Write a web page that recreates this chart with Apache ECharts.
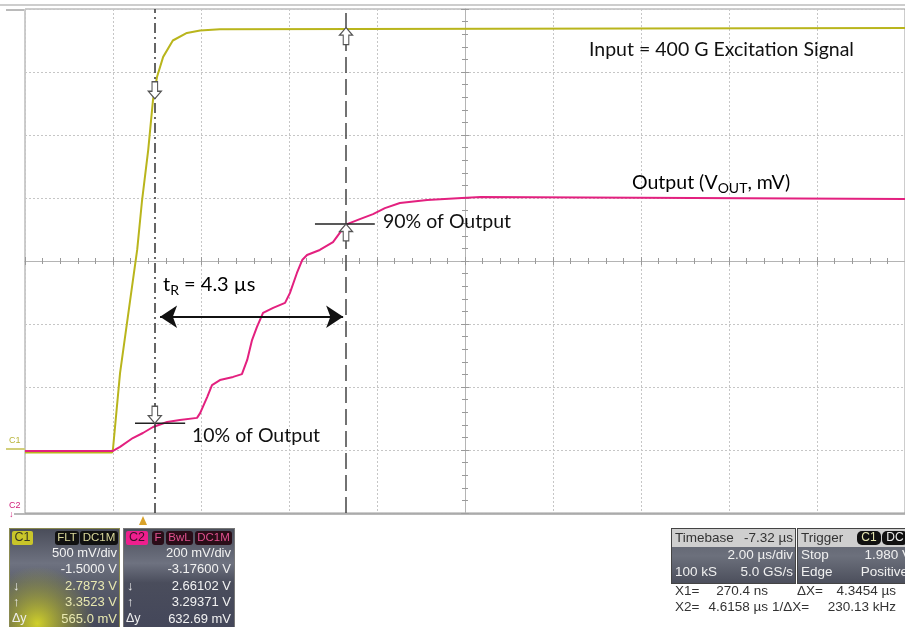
<!DOCTYPE html>
<html lang="en">
<head>
<meta charset="UTF-8">
<title>Rise time</title>
<script src="https://cdn.jsdelivr.net/npm/echarts@6/dist/echarts.min.js"></script>
<style>
  html, body { margin: 0; padding: 0; background: #fff; }
  #chart { width: 905px; height: 627px; }
</style>
</head>
<body>
<div id="chart"></div>
<script>
// scope settings (from the readout panels)
var timeCenter = 7.32;      // us, timebase delay
var timePerDiv = 2.0;       // us/div
var c1PerDiv = 0.5, c1Offset = -1.5;     // V/div, V
var c2PerDiv = 0.2, c2Offset = -3.176;

// C1 = input excitation (V), C2 = output (V), time in us
var c1Time = [-2.68, -0.70, -0.68, -0.52, -0.29, -0.13, -0.02, 0.12, 0.23, 0.32, 0.46, 0.68, 1.00, 1.30, 1.75, 17.32];
var c1Volt = [-0.02, -0.02, 0.01, 0.61, 1.19, 1.59, 1.98, 2.38, 2.78, 2.96, 3.12, 3.25, 3.31, 3.33, 3.34, 3.35];

var c2Time = [-2.68, -0.68, -0.52, -0.23, 0.00, 0.23, 0.55, 0.84, 1.23, 1.30, 1.46, 1.57, 1.75, 2.05, 2.25, 2.37, 2.48, 2.59, 2.73, 2.96,
              3.23, 3.34, 3.50, 3.62, 3.73, 4.02, 4.32, 4.52, 4.64, 4.93, 5.23, 5.50, 5.84, 6.46, 7.25, 7.68, 17.32];
var c2Volt = [2.573, 2.573, 2.586, 2.614, 2.630, 2.649, 2.665, 2.671, 2.678, 2.693, 2.744, 2.782, 2.798, 2.808, 2.817, 2.862, 2.925, 2.966, 3.011, 3.027,
              3.043, 3.074, 3.138, 3.179, 3.195, 3.211, 3.236, 3.274, 3.293, 3.309, 3.325, 3.344, 3.360, 3.370, 3.376, 3.379, 3.373];

// cursors
var cursorTime = [0.2704, 4.6158];
var c1Cursor = [2.7873, 3.3523];
var c2Cursor = [2.66102, 3.29371];
// rise time arrow (us) and its height on C2 (V)
var riseArrowTime = [0.39, 4.55];
var riseArrowVolt = 2.999;
// 10% / 90% marker bars (us)
var bar10Time = [-0.18, 0.96];
var bar90Time = [3.91, 5.27];

function xd(t) { return (t - timeCenter) / timePerDiv; }
function y1(v) { return (v + c1Offset) / c1PerDiv; }
function y2(v) { return (v + c2Offset) / c2PerDiv; }

var c1Data = c1Time.map(function (t, i) { return [xd(t), y1(c1Volt[i])]; });
var c2Data = c2Time.map(function (t, i) { return [xd(t), y2(c2Volt[i])]; });

var downArrow = 'path://M4,0 L10,0 L10,10 L14,10 L7,18 L0,10 L4,10 Z';
var upArrow = 'path://M7,0 L14,8 L10,8 L10,18 L4,18 L4,8 L0,8 Z';

var chart = echarts.init(document.getElementById('chart'));

var gridLine = { show: true, lineStyle: { color: '#c6c6c6', type: [2, 2], width: 1 } };
var hidden = { show: false };

function centerAxis(inside) {
  return {
    type: 'value', min: -5, max: 5, interval: 1,
    axisLine: { show: true, onZero: true, lineStyle: { color: '#b4b4b4' } },
    axisTick: { show: true, inside: inside, length: 4, lineStyle: { color: '#9a9a9a' } },
    minorTick: { show: true, splitNumber: 5, length: 3, lineStyle: { color: '#9a9a9a' } },
    axisLabel: hidden, splitLine: hidden
  };
}
function centerYAxis(inside) {
  return {
    type: 'value', min: -4, max: 4, interval: 1,
    axisLine: { show: true, onZero: true, lineStyle: { color: '#b4b4b4' } },
    axisTick: { show: true, inside: inside, length: 4, lineStyle: { color: '#9a9a9a' } },
    minorTick: { show: true, splitNumber: 5, length: 3, lineStyle: { color: '#9a9a9a' } },
    axisLabel: hidden, splitLine: hidden
  };
}

var annFont = 'Lato, "Open Sans", sans-serif';
var panelFont = '"Liberation Sans", Arial, sans-serif';

// ---- bottom readout panels ----
var g = [];
function rect(x, y, w, h, fill, r, z) {
  g.push({ type: 'rect', shape: { x: x, y: y, width: w, height: h, r: r || 0 }, style: { fill: fill }, z: z || 10 });
}
function txt(x, y, s, color, align, size, z) {
  g.push({ type: 'text', x: x, y: y, z: z || 12,
    style: { text: s, fill: color, font: (size || 12.5) + 'px ' + panelFont, textAlign: align || 'left', textVerticalAlign: 'middle' } });
}
var boxGrad = new echarts.graphic.LinearGradient(0, 0, 0, 1, [
  { offset: 0, color: '#4a4d5a' }, { offset: 0.35, color: '#6e7280' }, { offset: 0.55, color: '#5a5e6c' }, { offset: 1, color: '#44475a' }
]);
var boxGrad2 = new echarts.graphic.LinearGradient(0, 0, 0, 1, [
  { offset: 0, color: '#4a4d5a' }, { offset: 0.35, color: '#6e7280' }, { offset: 0.55, color: '#4a4d5c' }, { offset: 1, color: '#44475a' }
]);

// C1 box
rect(9, 528, 111, 99, '#8a8a50', 0, 9);
rect(10, 529, 109, 98, boxGrad, 0, 10);
g.push({ type: 'rect', shape: { x: 10, y: 556, width: 109, height: 71 }, z: 11,
  style: { fill: new echarts.graphic.RadialGradient(0.25, 0.95, 0.8, [
    { offset: 0, color: 'rgba(215,215,40,0.95)' }, { offset: 0.6, color: 'rgba(185,185,40,0.4)' }, { offset: 1, color: 'rgba(180,180,40,0)' }]) } });
rect(12, 531, 21, 14, '#c9c52a', 2, 12);
txt(22.5, 538, 'C1', '#3a3a20', 'center', 12.5, 13);
rect(55, 531, 24, 14, '#111', 3, 12);
txt(67, 538, 'FLT', '#d9d79a', 'center', 11.5, 13);
rect(80, 531, 38, 14, '#111', 3, 12);
txt(99, 538, 'DC1M', '#d9d79a', 'center', 11.5, 13);
var c1Rows = ['500 mV/div', '-1.5000 V', '2.7873 V', '3.3523 V', '565.0 mV'];
var c2Rows = ['200 mV/div', '-3.17600 V', '2.66102 V', '3.29371 V', '632.69 mV'];
var rowY = [553, 569.5, 586, 602.5, 619];
c1Rows.forEach(function (s, i) { txt(117, rowY[i], s, i >= 2 ? '#e8e8b0' : '#f2f2f2', 'right', 13, 13); });
txt(13, rowY[2], '\u2193', '#eeeeee', 'left', 13, 13);
txt(13, rowY[3], '\u2191', '#eeeeee', 'left', 13, 13);
txt(12, rowY[4], '\u0394y', '#eeeeee', 'left', 12.5, 13);

// C2 box
rect(123, 528, 112, 99, '#777', 0, 9);
rect(124, 529, 110, 98, boxGrad2, 0, 10);
rect(126, 531, 22, 14, '#ee1f8e', 2, 12);
txt(137, 538, 'C2', '#3a1028', 'center', 12.5, 13);
rect(152, 531, 12, 14, '#2a0d18', 3, 12);
txt(158, 538, 'F', '#e0508f', 'center', 11.5, 13);
rect(166, 531, 27, 14, '#2a0d18', 3, 12);
txt(179.5, 538, 'BwL', '#e0508f', 'center', 11.5, 13);
rect(195, 531, 37, 14, '#2a0d18', 3, 12);
txt(213.5, 538, 'DC1M', '#e0508f', 'center', 11.5, 13);
c2Rows.forEach(function (s, i) { txt(231, rowY[i], s, '#f2f2f2', 'right', 13, 13); });
txt(127, rowY[2], '\u2193', '#eeeeee', 'left', 13, 13);
txt(127, rowY[3], '\u2191', '#eeeeee', 'left', 13, 13);
txt(126, rowY[4], '\u0394y', '#eeeeee', 'left', 12.5, 13);

// timebase + trigger boxes
var tbGrad = new echarts.graphic.LinearGradient(0, 0, 0, 1, [
  { offset: 0, color: '#5c5f6c' }, { offset: 0.5, color: '#6c707c' }, { offset: 1, color: '#4c4f5c' }]);
rect(671, 528, 125, 56, '#444', 0, 9);
rect(672, 529, 123, 54, tbGrad, 0, 10);
rect(672, 529, 123, 18, '#cfcfcf', 0, 11);
txt(675, 538, 'Timebase', '#333', 'left', 13.5, 13);
txt(793, 538, '-7.32 \u00b5s', '#333', 'right', 13.5, 13);
txt(793, 555, '2.00 \u00b5s/div', '#f0f0f0', 'right', 13.5, 13);
txt(675, 572, '100 kS', '#f0f0f0', 'left', 13.5, 13);
txt(793, 572, '5.0 GS/s', '#f0f0f0', 'right', 13.5, 13);

rect(797, 528, 110, 56, '#444', 0, 9);
rect(798, 529, 109, 54, tbGrad, 0, 10);
rect(798, 529, 109, 18, '#cfcfcf', 0, 11);
txt(801, 538, 'Trigger', '#333', 'left', 13.5, 13);
rect(857, 531, 24, 14, '#111', 5, 12);
txt(869, 538, 'C1', '#e6e6b0', 'center', 12, 13);
rect(882, 531, 26, 14, '#111', 5, 12);
txt(895, 538, 'DC', '#eeeeee', 'center', 12, 13);
txt(801, 555, 'Stop', '#f0f0f0', 'left', 13.5, 13);
txt(911, 555, '1.980 V', '#f0f0f0', 'right', 13.5, 13);
txt(801, 572, 'Edge', '#f0f0f0', 'left', 13.5, 13);
txt(908, 572, 'Positive', '#f0f0f0', 'right', 13.5, 13);

txt(675, 591, 'X1=', '#333', 'left', 13.5, 13);
txt(768, 591, '270.4 ns', '#333', 'right', 13.5, 13);
txt(797, 591, '\u0394X=', '#333', 'left', 13.5, 13);
txt(896, 591, '4.3454 \u00b5s', '#333', 'right', 13.5, 13);
txt(675, 607, 'X2=', '#333', 'left', 13.5, 13);
txt(768, 607, '4.6158 \u00b5s', '#333', 'right', 13.5, 13);
txt(772, 607, '1/\u0394X=', '#333', 'left', 13.5, 13);
txt(896, 607, '230.13 kHz', '#333', 'right', 13.5, 13);

// frame bits around the screen
g.push({ type: 'line', shape: { x1: 0, y1: 5, x2: 905, y2: 5 }, style: { stroke: '#bdbdbd', lineWidth: 1.5 }, z: 5 });
g.push({ type: 'line', shape: { x1: 14, y1: 514, x2: 905, y2: 514 }, style: { stroke: '#a0a0a0', lineWidth: 1.5 }, z: 5 });
g.push({ type: 'line', shape: { x1: 6, y1: 10, x2: 24, y2: 10 }, style: { stroke: '#777', lineWidth: 1 }, z: 5 });
// channel markers
g.push({ type: 'text', x: 9, y: 441, z: 12, style: { text: 'C1', fill: '#b8b43a', font: '9px ' + panelFont, textAlign: 'left', textVerticalAlign: 'middle' } });
g.push({ type: 'line', shape: { x1: 6, y1: 449, x2: 25, y2: 449 }, style: { stroke: '#d2cf7a', lineWidth: 2 }, z: 5 });
g.push({ type: 'text', x: 9, y: 506, z: 12, style: { text: 'C2', fill: '#d0207a', font: '9px ' + panelFont, textAlign: 'left', textVerticalAlign: 'middle' } });
g.push({ type: 'text', x: 9, y: 515, z: 12, style: { text: '\u2193', fill: '#d0207a', font: 'bold 9px ' + panelFont, textAlign: 'left', textVerticalAlign: 'middle' } });
// trigger position marker
g.push({ type: 'polygon', shape: { points: [[143, 516], [139, 525], [147, 525]] }, style: { fill: '#d9a22a' }, z: 12 });

// ---- annotations ----
var annSize = 19.5, subSize = 14;
g.push({ type: 'text', x: 589, y: 50, z: 20, style: { text: 'Input = 400 G Excitation Signal', fill: '#111', font: annSize + 'px ' + annFont, textVerticalAlign: 'middle' } });
g.push({ type: 'text', x: 632, y: 183, z: 20, style: {
  text: '{a|Output (V}{s|OUT}{a|, mV)}', textVerticalAlign: 'middle',
  rich: { a: { fontSize: annSize, fontFamily: annFont, color: '#111' }, s: { fontSize: subSize, fontFamily: annFont, color: '#111', padding: [10, 0, 0, 0] } } } });
g.push({ type: 'text', x: 383, y: 222, z: 20, style: { text: '90% of Output', fill: '#111', font: annSize + 'px ' + annFont, textVerticalAlign: 'middle' } });
g.push({ type: 'text', x: 192, y: 436, z: 20, style: { text: '10% of Output', fill: '#111', font: annSize + 'px ' + annFont, textVerticalAlign: 'middle' } });
g.push({ type: 'text', x: 163, y: 285, z: 20, style: {
  text: '{a|t}{s|R}{a| = 4.3 \u00b5s}', textVerticalAlign: 'middle',
  rich: { a: { fontSize: 20, fontFamily: annFont, color: '#111' }, s: { fontSize: subSize, fontFamily: annFont, color: '#111', padding: [10, 0, 0, 0] } } } });

function levelBar(ts, y) { return [[xd(ts[0]), y], [xd(ts[1]), y]]; }

var option = {
  animation: false,
  backgroundColor: '#fff',
  grid: { left: 25, top: 9, width: 880, height: 504, show: true, borderColor: '#9a9a9a', borderWidth: 1 },
  xAxis: [
    { type: 'value', min: -5, max: 5, interval: 1, axisLine: hidden, axisTick: hidden, axisLabel: hidden, splitLine: gridLine },
    centerAxis(true),
    centerAxis(false)
  ],
  yAxis: [
    { type: 'value', min: -4, max: 4, interval: 1, axisLine: hidden, axisTick: hidden, axisLabel: hidden, splitLine: gridLine },
    centerYAxis(true),
    centerYAxis(false)
  ],
  series: [
    {
      name: 'C1', type: 'line', data: c1Data, symbol: 'none', z: 3,
      lineStyle: { color: '#b9b51c', width: 2 },
      markLine: {
        silent: true, symbol: ['none', 'none'], label: { show: false }, animation: false,
        data: [
          { xAxis: xd(cursorTime[0]), lineStyle: { color: '#333', width: 1.5, type: [10, 4, 2, 4] } },
          { xAxis: xd(cursorTime[1]), lineStyle: { color: '#444', width: 1.5, type: [16, 6] } }
        ]
      }
    },
    { name: 'C2', type: 'line', data: c2Data, symbol: 'none', z: 4, lineStyle: { color: '#e3207f', width: 2 } },
    { name: 'bar10', type: 'line', data: levelBar(bar10Time, y2(c2Cursor[0])), symbol: 'none', z: 6, lineStyle: { color: '#222', width: 1.5 } },
    { name: 'bar90', type: 'line', data: levelBar(bar90Time, y2(c2Cursor[1])), symbol: 'none', z: 6, lineStyle: { color: '#222', width: 1.5 } },
    {
      name: 'rise', type: 'line', data: [], z: 6,
      markLine: {
        silent: true, symbol: ['arrow', 'arrow'], symbolSize: 17, label: { show: false }, animation: false,
        lineStyle: { color: '#111', width: 2, type: 'solid' },
        data: [[{ coord: [xd(riseArrowTime[0]), y2(riseArrowVolt)] }, { coord: [xd(riseArrowTime[1]), y2(riseArrowVolt)] }]]
      }
    },
    {
      name: 'cursorDown', type: 'scatter', z: 8, symbol: downArrow, symbolSize: [13, 17], symbolOffset: [0, '-50%'],
      itemStyle: { color: '#fff', borderColor: '#555', borderWidth: 1.2, opacity: 1 },
      data: [[xd(cursorTime[0]), y1(c1Cursor[0])], [xd(cursorTime[0]), y2(c2Cursor[0])]]
    },
    {
      name: 'cursorUp', type: 'scatter', z: 8, symbol: upArrow, symbolSize: [13, 17], symbolOffset: [0, '50%'],
      itemStyle: { color: '#fff', borderColor: '#555', borderWidth: 1.2, opacity: 1 },
      data: [[xd(cursorTime[1]), y1(c1Cursor[1])], [xd(cursorTime[1]), y2(c2Cursor[1])]]
    }
  ],
  graphic: g
};

chart.setOption(option);
</script>
</body>
</html>
